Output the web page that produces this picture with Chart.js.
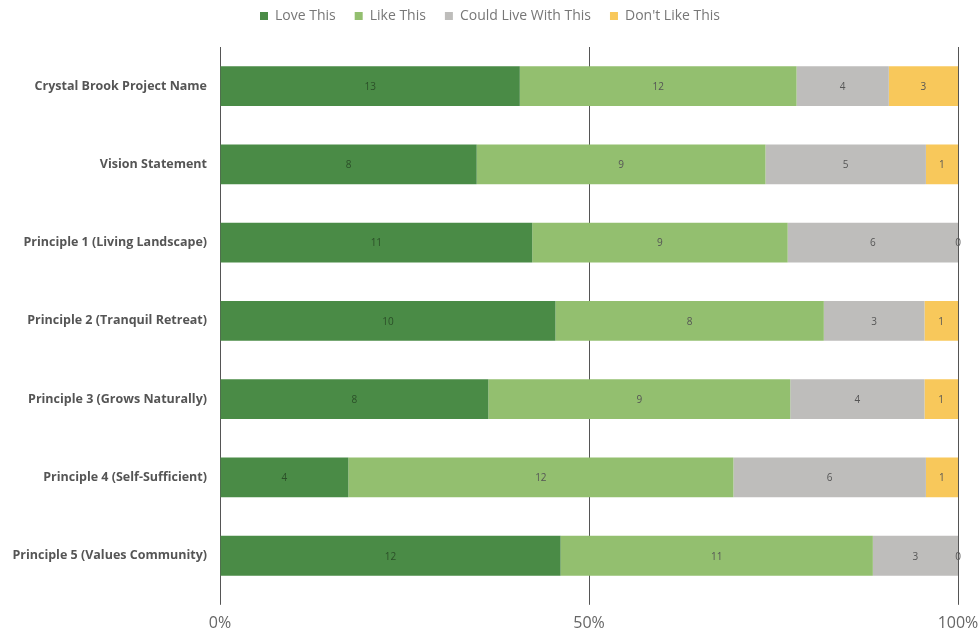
<!DOCTYPE html>
<html>
<head>
<meta charset="utf-8">
<script src="https://cdn.jsdelivr.net/npm/chart.js@4"></script>
<style>
html,body{margin:0;padding:0;background:#fff;}
#wrap{width:980px;height:637px;position:relative;}
</style>
</head>
<body>
<div id="wrap"><canvas id="c" width="980" height="637"></canvas></div>
<script>
const categories = [
  "Crystal Brook Project Name",
  "Vision Statement",
  "Principle 1 (Living Landscape)",
  "Principle 2 (Tranquil Retreat)",
  "Principle 3 (Grows Naturally)",
  "Principle 4 (Self-Sufficient)",
  "Principle 5 (Values Community)"
];
const seriesNames = ["Love This", "Like This", "Could Live With This", "Don't Like This"];
const loveThis = [13, 8, 11, 10, 8, 4, 12];
const likeThis = [12, 9, 9, 8, 9, 12, 11];
const couldLiveWithThis = [4, 5, 6, 3, 4, 6, 3];
const dontLikeThis = [3, 1, 0, 1, 1, 1, 0];
const tickLabels = ["0%", "50%", "100%"];
const colors = ["#4a8b46", "#93bf6f", "#bebdbb", "#f8c85b"];

const raw = [loveThis, likeThis, couldLiveWithThis, dontLikeThis];
const totals = categories.map((_, i) => raw.reduce((s, a) => s + a[i], 0));
const datasets = raw.map((arr, k) => ({
  label: seriesNames[k],
  data: arr.map((v, i) => v / totals[i] * 100),
  rawValues: arr,
  backgroundColor: colors[k],
  borderWidth: 0,
  barPercentage: 0.51,
  categoryPercentage: 1.0
}));

const labelPlugin = {
  id: 'valueLabels',
  afterDatasetsDraw(chart) {
    const ctx = chart.ctx;
    ctx.save();
    ctx.font = '10px "Open Sans", sans-serif';
    ctx.textAlign = 'center';
    ctx.textBaseline = 'middle';
    chart.data.datasets.forEach((ds, k) => {
      const meta = chart.getDatasetMeta(k);
      meta.data.forEach((bar, i) => {
        const c = bar.getCenterPoint();
        ctx.fillStyle = k === 0 ? '#2b4f28' : '#555555';
        ctx.fillText(String(ds.rawValues[i]), c.x, c.y + 1);
      });
    });
    ctx.restore();
  }
};

const legendSpacer = {
  id: 'legendSpacer',
  beforeInit(chart) {
    const origFit = chart.legend.fit;
    chart.legend.fit = function () {
      origFit.bind(chart.legend)();
      this.height += 14;
    };
  }
};

new Chart(document.getElementById('c'), {
  type: 'bar',
  data: { labels: categories, datasets },
  options: {
    indexAxis: 'y',
    responsive: false,
    animation: false,
    layout: { padding: { left: 10, right: 10, top: -10, bottom: -5 } },
    plugins: {
      legend: {
        position: 'top',
        labels: {
          boxWidth: 8, boxHeight: 8, padding: 19,
          color: '#777', font: { family: '"Open Sans", sans-serif', size: 14 }
        }
      },
      tooltip: { enabled: false }
    },
    scales: {
      x: {
        stacked: true, min: 0, max: 100,
        afterFit: (s) => { s.paddingRight = 22; },
        ticks: {
          stepSize: 50,
          color: '#666',
          font: { family: '"Open Sans", sans-serif', size: 16 },
          padding: 9,
          callback: (v) => tickLabels[v / 50]
        },
        grid: { color: '#555', lineWidth: 1, drawTicks: true, tickLength: 10 },
        border: { display: false }
      },
      y: {
        stacked: true,
        afterFit: (s) => { s.width = 210; },
        ticks: {
          color: '#555',
          padding: 13,
          font: { family: '"Open Sans", sans-serif', size: 12.5, weight: 'bold' }
        },
        grid: { display: false, drawTicks: false },
        border: { display: false }
      }
    }
  },
  plugins: [labelPlugin, legendSpacer]
});
</script>
</body>
</html>
